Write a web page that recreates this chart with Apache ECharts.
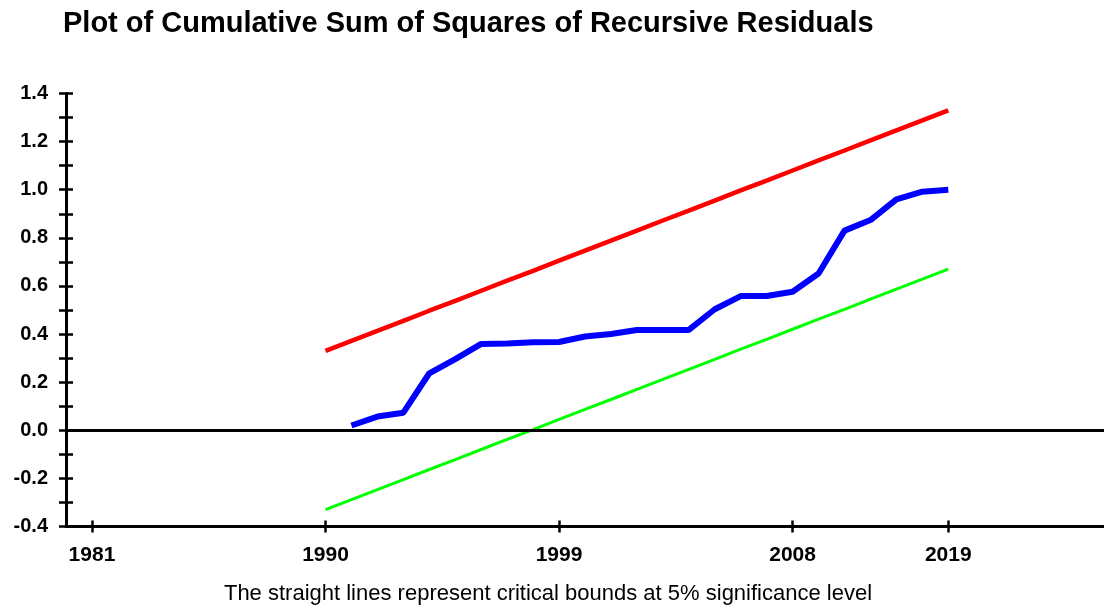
<!DOCTYPE html>
<html>
<head>
<meta charset="utf-8">
<script src="https://cdn.jsdelivr.net/npm/echarts@6/dist/echarts.min.js"></script>
<style>
html,body{margin:0;padding:0;background:#fff;}
#chart{width:1104px;height:608px;}
</style>
</head>
<body>
<div id="chart"></div>
<script>
// ---- data ----
const titleText = 'Plot of Cumulative Sum of Squares of Recursive Residuals';
const captionText = 'The straight lines represent critical bounds at 5% significance level';

const bandYears = [1990,1991,1992,1993,1994,1995,1996,1997,1998,1999,2000,2001,2002,2003,2004,2005,2006,2007,2008,2009,2010,2011,2012,2013,2014];
const upperBound = [0.330,0.372,0.413,0.455,0.497,0.538,0.580,0.622,0.663,0.705,0.747,0.788,0.830,0.872,0.913,0.955,0.997,1.038,1.080,1.122,1.163,1.205,1.247,1.288,1.330];
const lowerBound = [-0.330,-0.288,-0.247,-0.205,-0.163,-0.122,-0.080,-0.038,0.003,0.045,0.087,0.128,0.170,0.212,0.253,0.295,0.337,0.378,0.420,0.462,0.503,0.545,0.587,0.628,0.670];

const cusumYears = [1991,1992,1993,1994,1995,1996,1997,1998,1999,2000,2001,2002,2003,2004,2005,2006,2007,2008,2009,2010,2011,2012,2013,2014];
const cusumsq = [0.02,0.057,0.073,0.237,0.296,0.359,0.361,0.366,0.367,0.39,0.40,0.417,0.417,0.417,0.503,0.558,0.558,0.576,0.652,0.83,0.874,0.96,0.992,1.0];

const xTickValues = [1981,1990,1999,2008,2014];
const xTickLabels = ['1981','1990','1999','2008','2019'];

// ---- chart ----
const chart = echarts.init(document.getElementById('chart'));
const FONT = '"Liberation Sans", Arial, sans-serif';
const AX = {lineStyle:{color:'#000', width:3}};
const TICK = {color:'#000', width:2.5};

function pairs(xs, ys){ return xs.map((x,i)=>[x, ys[i]]); }

const xBase = {
  type:'value', min:1980, max:2020, gridIndex:0, position:'bottom',
  axisLine:{show:true, onZero:false, lineStyle:AX.lineStyle},
  splitLine:{show:false}
};
const yBase = {
  type:'value', min:-0.4, max:1.4, interval:0.2, position:'left',
  axisLine:{show:true, onZero:false, lineStyle:AX.lineStyle},
  splitLine:{show:false}
};

const option = {
  animation:false,
  backgroundColor:'#fff',
  title:{
    text:titleText, left:63, top:9, padding:0,
    textStyle:{fontFamily:FONT, fontSize:29, fontWeight:'bold', color:'#000'}
  },
  graphic:[{
    type:'text', x:548, y:594,
    style:{text:captionText, fontFamily:FONT, fontSize:22, fill:'#000', textAlign:'center', textVerticalAlign:'middle'}
  }],
  grid:{left:66, right:0, top:93.5, bottom:81.5, containLabel:false},
  xAxis:[
    Object.assign({}, xBase, {
      axisTick:{show:true, inside:false, length:6, lineStyle:TICK, customValues:xTickValues},
      axisLabel:{show:true, margin:18, customValues:xTickValues,
        formatter:v=>{const i = xTickValues.findIndex(t=>Math.abs(t-v)<1e-6); return i>=0 ? xTickLabels[i] : '';},
        fontFamily:FONT, fontSize:21, fontWeight:'bold', color:'#000'}
    }),
    Object.assign({}, xBase, {
      axisTick:{show:true, inside:true, length:6, lineStyle:TICK, customValues:xTickValues},
      axisLabel:{show:false}
    })
  ],
  yAxis:[
    Object.assign({}, yBase, {
      axisTick:{show:true, inside:false, length:7, lineStyle:TICK},
      minorTick:{show:true, splitNumber:2, length:7, lineStyle:TICK},
      axisLabel:{show:true, margin:18, padding:[5,0,0,0], formatter:v=>(Math.abs(v)<1e-9?0:v).toFixed(1),
        fontFamily:FONT, fontSize:20, fontWeight:'bold', color:'#000'}
    }),
    Object.assign({}, yBase, {
      axisTick:{show:true, inside:true, length:7, lineStyle:TICK},
      minorTick:{show:true, splitNumber:2, length:7, lineStyle:TICK},
      axisLabel:{show:false}
    })
  ],
  series:[
    {
      type:'line', name:'Upper bound', data:pairs(bandYears, upperBound),
      showSymbol:false, symbol:'none', lineStyle:{color:'#ff0000', width:4.5}, z:3
    },
    {
      type:'line', name:'Lower bound', data:pairs(bandYears, lowerBound),
      showSymbol:false, symbol:'none', lineStyle:{color:'#00ff00', width:3}, z:3
    },
    {
      type:'line', name:'CUSUM of squares', data:pairs(cusumYears, cusumsq),
      showSymbol:false, symbol:'none', lineStyle:{color:'#0000ff', width:6}, z:4,
      markLine:{
        silent:true, symbol:['none','none'], label:{show:false},
        lineStyle:{color:'#000', width:3, type:'solid'},
        data:[{yAxis:0}]
      }
    }
  ]
};
chart.setOption(option);
</script>
</body>
</html>
